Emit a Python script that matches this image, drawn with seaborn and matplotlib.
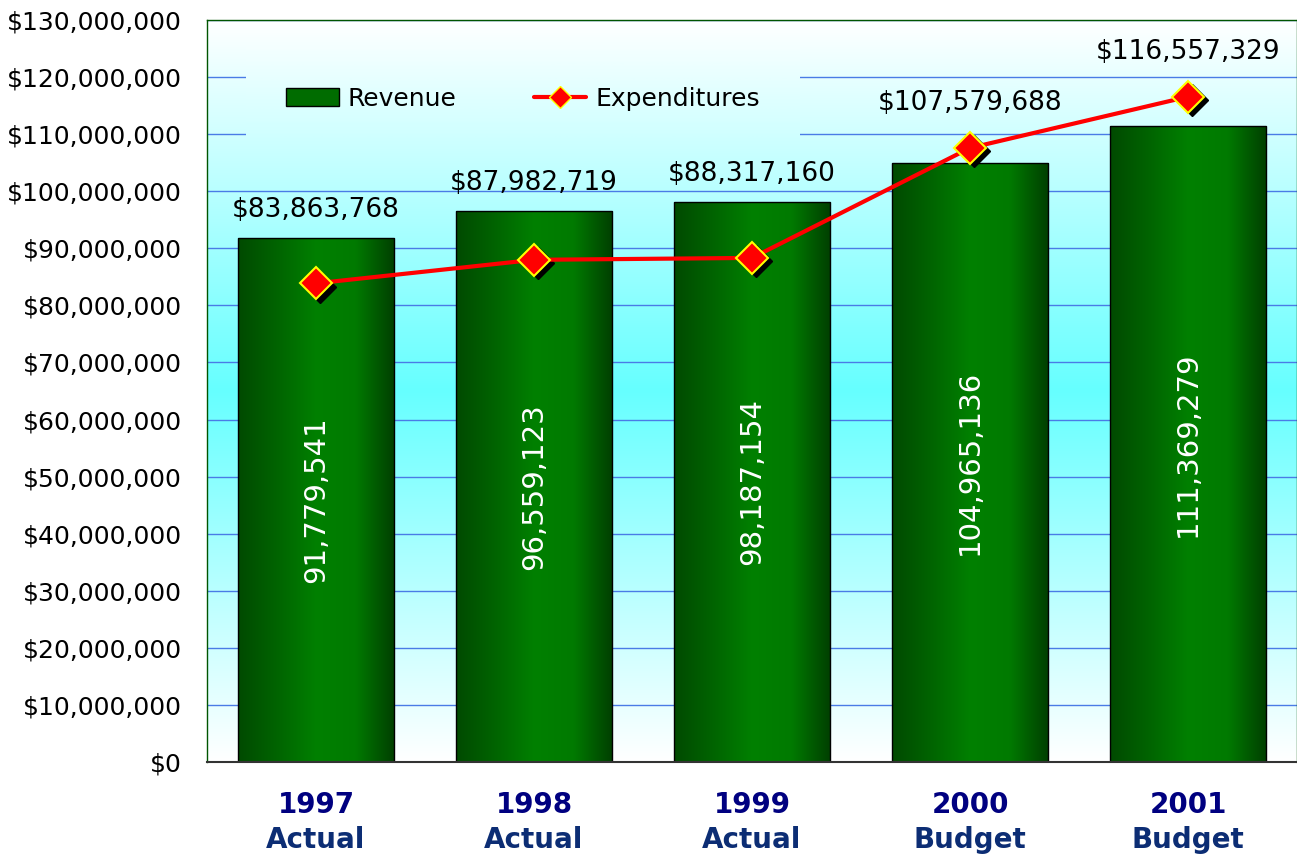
import numpy as np
import matplotlib
matplotlib.use("Agg")
import matplotlib.pyplot as plt
import matplotlib.colors as mcolors
import matplotlib.transforms as mtransforms
from matplotlib.lines import Line2D
from matplotlib.patches import Patch
from matplotlib.ticker import FuncFormatter, MultipleLocator
import seaborn as sns

# Datos del gráfico
years = ["1997", "1998", "1999", "2000", "2001"]
kinds = ["Actual", "Actual", "Actual", "Budget", "Budget"]
revenue = [91779541, 96559123, 98187154, 104965136, 111369279]
expenditures = [83863768, 87982719, 88317160, 107579688, 116557329]

sns.set_style("white")
plt.rcParams["font.family"] = ["DejaVu Sans"]
plt.rcParams["text.color"] = "black"
plt.rcParams["ytick.labelcolor"] = "black"

fig = plt.figure(figsize=(12.97, 8.55), dpi=100)
ax = fig.add_axes([207 / 1297, 93 / 855, 1090 / 1297, 742 / 855])

# Fondo degradado blanco -> cian -> blanco
bg_cmap = mcolors.LinearSegmentedColormap.from_list(
    "bg", [(0, "white"), (0.5, "#66ffff"), (1, "white")]
)
ax.imshow(
    np.linspace(0, 1, 256).reshape(-1, 1),
    extent=[0, 1, 0, 1],
    transform=ax.transAxes,
    cmap=bg_cmap,
    aspect="auto",
    origin="lower",
    zorder=-10,
)

# Barras de ingresos con degradado horizontal
sns.barplot(
    x=years,
    y=revenue,
    color="#007a00",
    width=0.72,
    edgecolor="black",
    linewidth=1,
    errorbar=None,
    ax=ax,
    zorder=2,
)
bar_cmap = mcolors.LinearSegmentedColormap.from_list(
    "bar", ["#004a00", "#006400", "#008000", "#007a00", "#003f00"]
)
hgrad = np.linspace(0, 1, 256).reshape(1, -1)
for p in list(ax.patches):
    x0, w, h = p.get_x(), p.get_width(), p.get_height()
    im = ax.imshow(hgrad, extent=[x0, x0 + w, 0, h], cmap=bar_cmap, aspect="auto", zorder=2)
    im.set_clip_path(p)
    p.set_facecolor("none")
    p.set_zorder(2.5)

# Línea de gastos con sombra en los marcadores
x_pos = np.arange(len(years))
shadow = ax.transData + mtransforms.ScaledTranslation(3.5 / 100, -3.5 / 100, fig.dpi_scale_trans)
ax.plot(x_pos, expenditures, ls="none", marker="D", ms=16, color="black", transform=shadow, zorder=4)
sns.lineplot(
    x=x_pos,
    y=expenditures,
    color="red",
    lw=3,
    marker="D",
    ms=16,
    mfc="red",
    mec="yellow",
    mew=1.5,
    ax=ax,
    zorder=5,
    legend=False,
)

# Etiquetas de valores
for i, (r, e) in enumerate(zip(revenue, expenditures)):
    ax.text(i, r / 2, f"{r:,}", rotation=90, ha="center", va="center",
            color="white", fontsize=21, zorder=6)
    off = 28 if r > e else 45
    ax.annotate(f"${e:,}", (i, max(r, e)), xytext=(0, off), textcoords="offset pixels",
                ha="center", va="center", fontsize=19, color="black", zorder=6)

# Ejes
ax.set_xlim(-0.5, 4.5)
ax.set_ylim(0, 130e6)
ax.set_xlabel("")
ax.set_ylabel("")
ax.yaxis.set_major_locator(MultipleLocator(10e6))
ax.yaxis.set_major_formatter(FuncFormatter(lambda v, _: f"${v:,.0f}"))
ax.tick_params(axis="y", length=0, pad=18, labelsize=18, labelcolor="black")
ax.yaxis.grid(True, color="#4a7be6", lw=1)
ax.set_axisbelow(True)

ax.set_xticks(x_pos)
ax.set_xticklabels(years)
ax.tick_params(axis="x", which="major", length=0, pad=21, labelsize=20, labelcolor="#000080")
for lbl in ax.get_xticklabels():
    lbl.set_fontweight("bold")
ax.set_xticks(np.arange(-0.5, 5, 1), minor=True)
ax.tick_params(axis="x", which="minor", direction="inout", length=16, width=1, color="#333333")
for i, k in enumerate(kinds):
    ax.text(i, -0.124, k, transform=ax.get_xaxis_transform(), ha="center", va="bottom",
            fontsize=20, fontweight="bold", color="#0c2d74")

for s in ["left", "top", "right"]:
    ax.spines[s].set_color("#005500")
    ax.spines[s].set_linewidth(1)
ax.spines["bottom"].set_color("#333333")
ax.spines["bottom"].set_linewidth(1.5)

# Leyenda (el recuadro tapa la rejilla con el mismo degradado del fondo)
handles = [
    Patch(facecolor="#006c00", edgecolor="black", label="Revenue"),
    Line2D([0], [0], color="red", lw=3, marker="D", ms=11, mfc="red", mec="yellow",
           mew=1, label="Expenditures"),
]
leg = ax.legend(
    handles=handles,
    loc="center",
    bbox_to_anchor=((523 - 207) / 1090, (762 - 99) / 742),
    ncol=2,
    fontsize=18,
    frameon=True,
    facecolor="none",
    edgecolor="none",
    fancybox=False,
    handlelength=2.1,
    handletextpad=0.35,
    columnspacing=3.1,
    borderpad=1.6,
)
leg.set_zorder(7)

fig.canvas.draw()
bb = leg.get_frame().get_window_extent().transformed(ax.transAxes.inverted())
ax.imshow(
    np.linspace(bb.y0, bb.y1, 64).reshape(-1, 1),
    extent=[bb.x0, bb.x1, bb.y0, bb.y1],
    transform=ax.transAxes,
    cmap=bg_cmap,
    vmin=0,
    vmax=1,
    aspect="auto",
    origin="lower",
    zorder=1,
)
ax.set_xlim(-0.5, 4.5)
ax.set_ylim(0, 130e6)

fig.savefig("out.png", dpi=100)
